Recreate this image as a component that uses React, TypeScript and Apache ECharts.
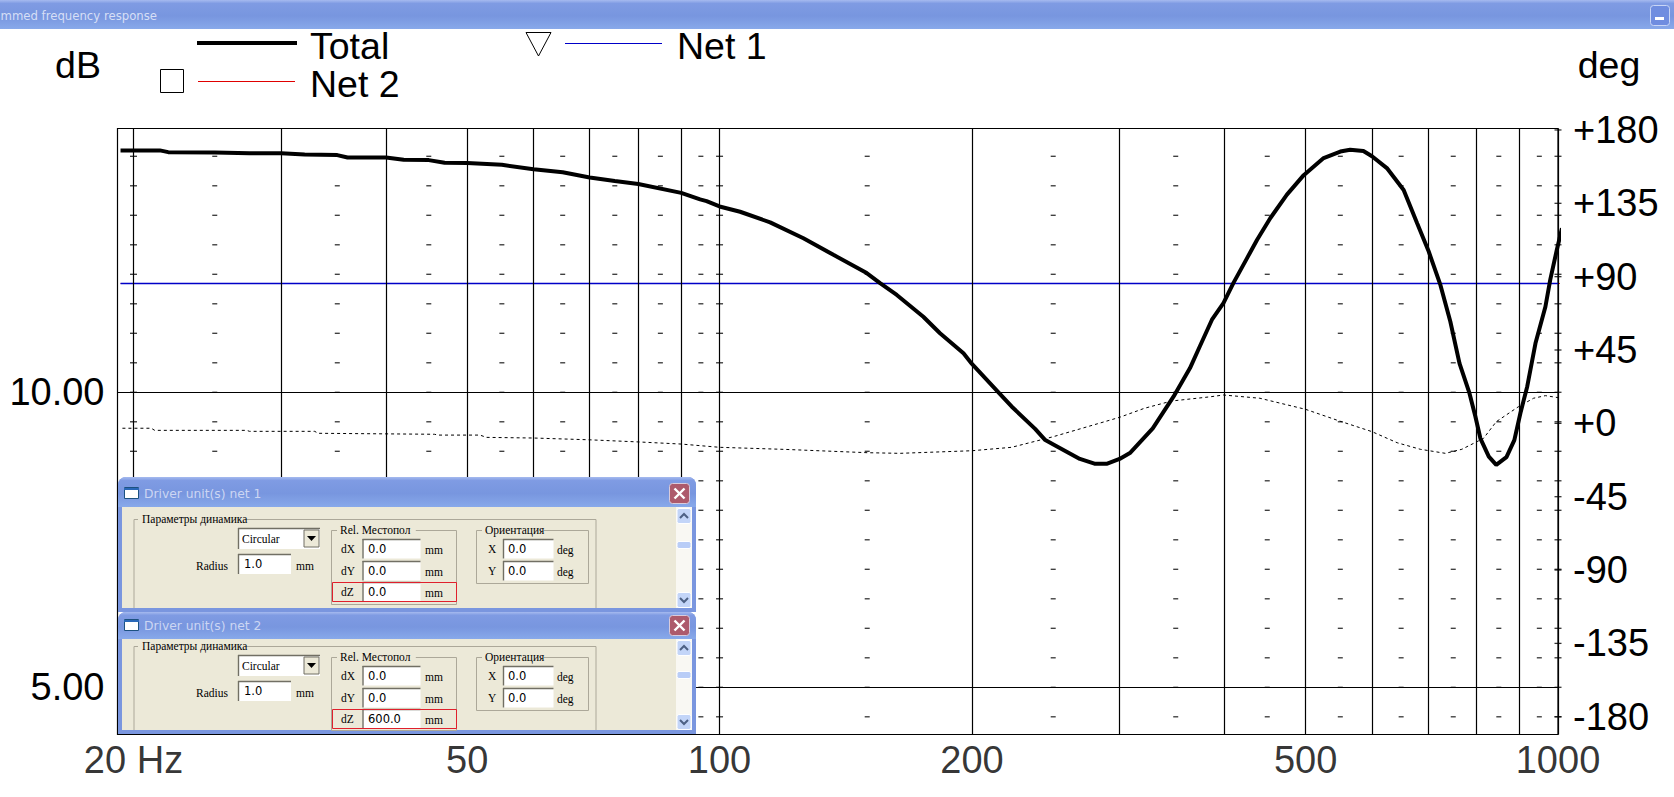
import React, { useEffect, useRef } from "react";
import * as echarts from "echarts";

const totalFreq = [19.3,20,21.5,22,25,27.5,30,32,35,36,40,42,45,47,50,55,60,65,70,75,80,90,94.8,96.5,100,105.8,114.9,125.9,136.7,149.8,155.4,162.7,175,183.2,195.4,200,215.1,223,237.9,244.6,252,269,280,290,300,308.6,328.6,348,364,374,386.6,399,410,425.6,437.5,453.7,475,497.4,525.4,550,565,586,600,625,654.5,679,701,724,744,763,784,797,808,827,844,868,887,902,919,940,966,979,997,1011];
const totalDb = [14.1,14.1,14.1,14.07,14.065,14.05,14.05,14.03,14.02,13.98,13.98,13.94,13.935,13.89,13.885,13.855,13.78,13.73,13.64,13.58,13.53,13.38,13.27,13.24,13.15,13.06,12.88,12.61,12.33,12.02,11.85,11.65,11.28,11,10.66,10.48,10,9.76,9.38,9.19,9.09,8.87,8.79,8.79,8.87,8.97,9.39,9.93,10.41,10.78,11.23,11.51,11.85,12.27,12.58,12.95,13.35,13.68,13.97,14.08,14.11,14.09,14,13.8,13.43,12.87,12.39,11.82,11.2,10.49,9.99,9.59,9.22,8.91,8.77,8.9,9.19,9.65,10.1,10.83,11.45,11.91,12.42,12.78];
const phaseFreq = [19.4,21,21.2,27.3,27.5,32.9,33.2,45.7,46.2,51.8,52.7,56.2,60,70,80,90,100,120,150,164,200,223,250,300,321,346,385,399,441,500,549,600,643,685,734,768,815,844,897,935,966,1011];
const phaseDeg = [-3,-3,-4.3,-4.3,-4.9,-4.9,-6.1,-6.7,-7.2,-7.2,-8.6,-8.8,-9,-10.1,-11.4,-12.7,-14.7,-16,-18,-18.4,-16.8,-14.7,-8.2,3.7,9.2,13.7,16.3,17.4,15.4,8.6,1.4,-5.1,-11.9,-15.9,-18.4,-15.9,-9.2,1,10.2,15.4,17,15.4];
const netFreq = [19.3, 1010];
const net1Db = [11.844, 11.844];
const net2Db = [11.844, 11.844];
const gridFreqs = [20,30,40,50,60,70,80,90,100,200,300,400,500,600,700,800,900,1000];
const freqLabels = [20,50,100,200,500,1000];
const dbRefLines = [10,5];
const dbLabels = [10,5];
const degLabels = [180,135,90,45,0,-45,-90,-135,-180];
const dashFreqs = [25,35,45,55,65,75,85,95,150,250,350,450,550,650,750,850,950];
const edgeDashFreqs = [20,100,1000];
const dashLevels = [14,13.5,13,12.5,12,11.5,11,10.5,10,9.5,9,8.5,8,7.5,7,6.5,6,5.5,5,4.5];
const DB_MIN = 4.2, DB_MAX = 14.471, DEG_MIN = -190.9, DEG_MAX = 180.9, F_MIN = 19.14, F_MAX = 1000;

const BODY = "#ece9d8";
const SANS = '"Liberation Sans", Arial, sans-serif';
const SERIF = '"Liberation Serif", serif';

const titleGrad = () => new echarts.graphic.LinearGradient(0, 0, 0, 1, [
  { offset: 0, color: "#a6baef" }, { offset: 0.12, color: "#7f9be3" }, { offset: 0.55, color: "#7896df" }, { offset: 1, color: "#88a9ea" },
]);
const G = (o: any) => ({ z: 100, silent: true, ...o });
const rect = (x: number, y: number, w: number, h: number, style: any, r?: any) => G({ type: "rect", shape: { x, y, width: w, height: h, r: r || 0 }, style });
const txt = (x: number, y: number, text: string, font: string, fill = "#000", align = "left") =>
  G({ type: "text", style: { x, y, text, font, fill, textAlign: align, textVerticalAlign: "middle" } });
const ln = (x1: number, y1: number, x2: number, y2: number, stroke: string, lineWidth = 1) =>
  G({ type: "line", shape: { x1, y1, x2, y2 }, style: { stroke, lineWidth } });
const poly = (points: number[][], fill: string) => G({ type: "polygon", shape: { points }, style: { fill } });
const chevron = (points: number[][]) => G({ type: "polyline", shape: { points }, style: { fill: "none", stroke: "#4d6185", lineWidth: 2 } });

const input = (x: number, y: number, w: number, h: number) => [
  rect(x, y, w, h, { fill: "#fff" }),
  ln(x, y + 0.5, x + w, y + 0.5, "#716f64", 1.4),
  ln(x + 0.5, y, x + 0.5, y + h, "#716f64", 1.4),
];
const box = (x: number, y: number, w: number, h: number, label: string) => [
  rect(x + 0.5, y + 0.5, w, h, { fill: "none", stroke: "#aca899", lineWidth: 1 }),
  G({ type: "rect", shape: { x: x + 6, y: y - 4, width: label.length * 5.6 + 6, height: 8 }, style: { fill: BODY } }),
  txt(x + 9, y, label, `11.5px ${SERIF}`),
];

type WinCfg = { top: number; bottom: number; titleH: number; off: number; title: string; dz: string; closeY: number; iconY: number; titleY: number; thumbY: number };

function driverWindow(c: WinCfg) {
  const { top, bottom, titleH, off, title, dz, closeY, iconY, titleY, thumbY } = c;
  const L = 118, R = 696;
  const els: any[] = [
    rect(L, top, R - L, bottom - top, { fill: "#7a96df" }, [8, 8, 0, 0]),
    rect(L, top, R - L, titleH, { fill: titleGrad() }, [8, 8, 0, 0]),
    rect(122, top + titleH, R - L - 8, bottom - top - titleH - 4, { fill: BODY }),
    rect(124.5, iconY, 14, 11, { fill: "#fff", stroke: "#1c5180", lineWidth: 1 }),
    ln(124, iconY + 1.5, 139, iconY + 1.5, "#2a68b8", 2),
    txt(144, titleY, title, `12.3px "DejaVu Sans"`, "#ccd6f3"),
    rect(669.5, closeY, 20, 20, { fill: "#ad5a6c", stroke: "#d8cbdc", lineWidth: 1 }, 3),
    ln(674.5, closeY + 5, 684.5, closeY + 15, "#fff", 2.4),
    ln(684.5, closeY + 5, 674.5, closeY + 15, "#fff", 2.4),
  ];
  els.push(G({ type: "polyline", shape: { points: [[134, bottom - 4], [134, off + 519.5], [596, off + 519.5], [596, bottom - 4]] }, style: { fill: "none", stroke: "#aca899", lineWidth: 1 } }));
  els.push(rect(138, off + 515, 108, 8, { fill: BODY }));
  els.push(txt(142, off + 519, "Параметры динамика", `11.5px ${SERIF}`));
  els.push(...input(238, off + 528, 82, 21));
  els.push(txt(242, off + 539, "Circular", `11.5px ${SERIF}`));
  els.push(rect(304, off + 530, 15, 17, { fill: BODY, stroke: "#716f64", lineWidth: 1 }));
  els.push(poly([[307, off + 536], [316, off + 536], [311.5, off + 541]], "#000"));
  els.push(txt(228, off + 566, "Radius", `11.5px ${SERIF}`, "#000", "right"));
  els.push(...input(238, off + 554, 53, 20));
  els.push(txt(244, off + 564, "1.0", `11.5px "DejaVu Sans"`));
  els.push(txt(296, off + 566, "mm", `11.5px ${SERIF}`));
  els.push(...box(331, off + 530, 125, Math.min(74, bottom - 4 - off - 530), "Rel. Местопол"));
  const rows: [string, string, number][] = [["dX", "0.0", 539], ["dY", "0.0", 561], ["dZ", dz, 582]];
  rows.forEach(([n, v, y]) => {
    els.push(txt(341, off + y + 10, n, `11.5px ${SERIF}`));
    els.push(...input(362.5, off + y, 58, 19.5));
    els.push(txt(368, off + y + 10, v, `11.5px "DejaVu Sans"`));
    els.push(txt(425, off + y + 11, "mm", `11.5px ${SERIF}`));
  });
  els.push(rect(332.5, off + 582.5, 124, 19, { fill: "none", stroke: "#e0202c", lineWidth: 1 }));
  els.push(...box(476, off + 530, 112, 53, "Ориентация"));
  const rows2: [string, number][] = [["X", 539], ["Y", 561]];
  rows2.forEach(([n, y]) => {
    els.push(txt(488, off + y + 10, n, `11.5px ${SERIF}`));
    els.push(...input(503, off + y, 50.5, 19.5));
    els.push(txt(508, off + y + 10, "0.0", `11.5px "DejaVu Sans"`));
    els.push(txt(557, off + y + 11, "deg", `11.5px ${SERIF}`));
  });
  const sbTop = top + titleH, sbBot = bottom - 4;
  els.push(rect(676, sbTop, 16, sbBot - sbTop, { fill: "#f9f8f3" }));
  els.push(rect(677, sbTop + 1.5, 14, 15, { fill: "#c3d5f8", stroke: "#fff", lineWidth: 1 }, 2));
  els.push(chevron([[680, sbTop + 11], [684, sbTop + 7], [688, sbTop + 11]]));
  els.push(rect(677, sbBot - 15.5, 14, 15, { fill: "#c3d5f8", stroke: "#fff", lineWidth: 1 }, 2));
  els.push(chevron([[680, sbBot - 10], [684, sbBot - 6], [688, sbBot - 10]]));
  els.push(rect(677, thumbY, 14, 7, { fill: "#b9cdf7", stroke: "#fff", lineWidth: 1 }, 2));
  return els;
}

function buildGraphics() {
  const LEG = `37.5px ${SANS}`;
  return [
    rect(0, 0, 1674, 29, { fill: titleGrad() }),
    txt(0.5, 16, "mmed frequency response", `11.7px "DejaVu Sans"`, "#d6dff6"),
    rect(1650.5, 5.5, 19, 20, { fill: "#6f8de0", stroke: "#c9d6f6", lineWidth: 1 }, 3),
    rect(1655, 17, 9, 3, { fill: "#fff" }),
    txt(78, 65, "dB", LEG, "#000", "center"),
    txt(1609, 65, "deg", LEG, "#000", "center"),
    ln(197, 43, 297, 43, "#000", 4),
    txt(310, 45.5, "Total", LEG),
    rect(160.5, 69.5, 23, 23, { fill: "none", stroke: "#000", lineWidth: 1 }),
    ln(198, 81.5, 295, 81.5, "#e00000", 1),
    txt(310, 84, "Net 2", LEG),
    G({ type: "polygon", shape: { points: [[526, 32.5], [551, 32.5], [538.5, 56]] }, style: { fill: "none", stroke: "#000", lineWidth: 1 } }),
    ln(565, 43.5, 662, 43.5, "#0000c8", 1),
    txt(677, 45.5, "Net 1", LEG),
    ...driverWindow({ top: 477, bottom: 612, titleH: 30, off: 0, title: "Driver unit(s) net 1", dz: "0.0", closeY: 483.5, iconY: 487.5, titleY: 494, thumbY: 541.5 }),
    ...driverWindow({ top: 612, bottom: 734, titleH: 27, off: 127, title: "Driver unit(s) net 2", dz: "600.0", closeY: 615.5, iconY: 619.5, titleY: 626, thumbY: 671.5 }),
  ];
}

const dashPoints = (freqs: number[]) => freqs.flatMap((f) => dashLevels.map((d) => [f, d]));

export default function App() {
  const ref = useRef<HTMLDivElement>(null);
  useEffect(() => {
    document.body.style.margin = "0";
    const chart = echarts.init(ref.current!, undefined, { renderer: "svg" });
    const axisLab = { fontFamily: SANS, fontSize: 38, color: "#000" };
    const dash = { symbol: "rect", silent: true, itemStyle: { color: "#000" } };
    chart.setOption({
      animation: false,
      backgroundColor: "#fff",
      grid: { left: 117.5, top: 128.5, width: 1440.5, height: 606, show: true, borderColor: "#000", borderWidth: 1.2, backgroundColor: "transparent" },
      xAxis: { type: "log", min: F_MIN, max: F_MAX, logBase: 10, axisLine: { show: false }, axisTick: { show: false }, axisLabel: { show: false }, splitLine: { show: false }, minorSplitLine: { show: false } },
      yAxis: [
        { type: "value", min: DB_MIN, max: DB_MAX, axisLine: { show: false }, axisTick: { show: false }, splitLine: { show: false },
          axisLabel: { ...axisLab, customValues: dbLabels, margin: 13, formatter: (v: number) => v.toFixed(2) } },
        { type: "value", position: "right", min: DEG_MIN, max: DEG_MAX, axisLine: { show: false }, axisTick: { show: false }, splitLine: { show: false },
          axisLabel: { ...axisLab, customValues: degLabels, margin: 15, formatter: (v: number) => (v === 0 ? "+0" : v > 0 ? `+${v}` : `${v}`) } },
      ],
      graphic: { elements: buildGraphics() },
      series: [
        { type: "line", name: "Grid", data: [], silent: true, showSymbol: false,
          markLine: { silent: true, symbol: "none", animation: false, label: { show: false }, lineStyle: { color: "#000", width: 1.2, type: "solid" },
            data: [...gridFreqs.map((f) => ({ xAxis: f })), ...dbRefLines.map((d) => ({ yAxis: d }))] } },
        { type: "scatter", name: "dashes", symbolSize: [5, 1.3], ...dash, data: dashPoints(dashFreqs) },
        { type: "scatter", name: "edge dashes", symbolSize: [7, 1.3], ...dash, data: dashPoints(edgeDashFreqs) },
        { type: "scatter", name: "deg ticks", yAxisIndex: 1, symbolSize: [7, 1.3], ...dash, data: degLabels.map((d) => [F_MAX, d]) },
        { type: "line", name: "Net 2", clip: false, showSymbol: false, silent: true, lineStyle: { color: "#e00000", width: 0.8 }, data: netFreq.map((f, i) => [f, net2Db[i]]) },
        { type: "line", name: "Net 1", clip: false, showSymbol: false, silent: true, lineStyle: { color: "#0000c8", width: 1.3 }, data: netFreq.map((f, i) => [f, net1Db[i]]) },
        { type: "line", name: "Phase", yAxisIndex: 1, clip: false, showSymbol: false, silent: true, lineStyle: { color: "#000", width: 1, type: [3, 3] }, data: phaseFreq.map((f, i) => [f, phaseDeg[i]]) },
        { type: "line", name: "Total", clip: false, showSymbol: false, silent: true, lineStyle: { color: "#000", width: 4 }, data: totalFreq.map((f, i) => [f, totalDb[i]]) },
        { type: "scatter", name: "freq labels", clip: false, symbolSize: 0, silent: true, data: freqLabels.map((f) => [f, DB_MIN]),
          label: { show: true, position: "bottom", distance: 6, ...axisLab, formatter: (p: any) => (p.value[0] === 20 ? "20 Hz" : `${p.value[0]}`) } },
      ],
    });
    return () => chart.dispose();
  }, []);
  return <div ref={ref} style={{ position: "absolute", left: 0, top: 0, width: 1674, height: 797, overflow: "hidden" }} />;
}
